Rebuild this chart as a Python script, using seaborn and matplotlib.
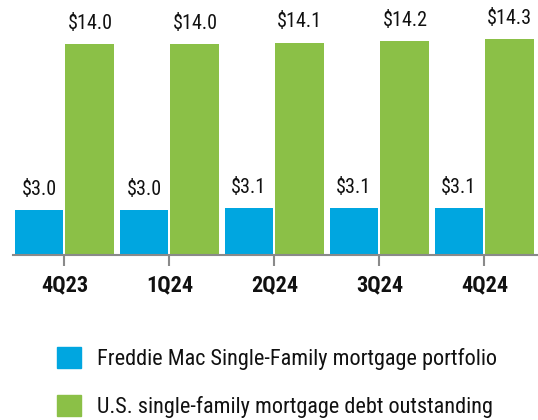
import pandas as pd
import seaborn as sns
import matplotlib.pyplot as plt
from matplotlib.patches import Patch

# data (USD trillions)
quarters = ['4Q23', '1Q24', '2Q24', '3Q24', '4Q24']
freddie = [3.0, 3.0, 3.1, 3.1, 3.1]
us_debt = [14.0, 14.0, 14.1, 14.2, 14.3]
series_names = ['Freddie Mac Single-Family mortgage portfolio',
                'U.S. single-family mortgage debt outstanding']
colors = ['#00A6E0', '#8BC047']

df = pd.DataFrame({
    'quarter': quarters * 2,
    'value': freddie + us_debt,
    'series': [series_names[0]] * len(quarters) + [series_names[1]] * len(quarters),
})

sns.set_style('white')
plt.rcParams['font.family'] = ['Roboto Condensed', 'Liberation Sans Narrow',
                               'Liberation Sans', 'DejaVu Sans']

fig = plt.figure(figsize=(5.38, 4.2), dpi=100)
ax = fig.add_axes([13 / 538, 165 / 420, 525 / 538, 255 / 420])

sns.barplot(data=df, x='quarter', y='value', hue='series', palette=colors,
            width=0.97, gap=0.04, linewidth=0, saturation=1, ax=ax, legend=False)

for cont in ax.containers:
    ax.bar_label(cont, labels=[f'${v:.1f}' for v in cont.datavalues],
                 padding=8, fontsize=14.5, color='#111111')

ax.set_xlim(-0.49, 4.51)
ax.set_ylim(0, 16.92)
ax.set_xlabel('')
ax.set_ylabel('')
ax.set_yticks([])
for s in ['top', 'right', 'left']:
    ax.spines[s].set_visible(False)
ax.spines['bottom'].set_color('#8a8a8a')
ax.spines['bottom'].set_linewidth(1.5)
ax.tick_params(axis='x', length=8, width=1.5, color='#8a8a8a', pad=6,
               labelsize=16, labelcolor='#111111', direction='out', bottom=True)
for t in ax.get_xticklabels():
    t.set_fontweight('bold')

handles = [Patch(color=c) for c in colors]
leg = fig.legend(handles, series_names, loc='upper left',
                 bbox_to_anchor=(57 / 538, 1 - 347 / 420), frameon=False,
                 fontsize=16, handlelength=1.1, handleheight=1.1,
                 handletextpad=0.72, labelspacing=1.12, borderpad=0, borderaxespad=0)
for t in leg.get_texts():
    t.set_color('#111111')

fig.savefig('out.png', dpi=100)
